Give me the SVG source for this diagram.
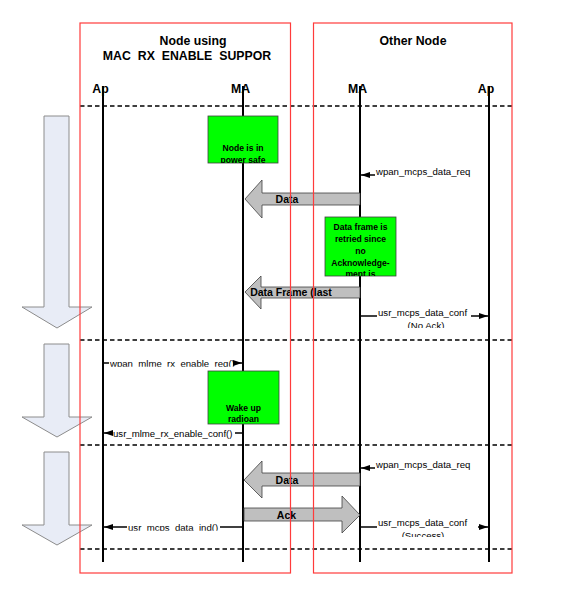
<svg xmlns="http://www.w3.org/2000/svg" width="582" height="594" viewBox="0 0 582 594">
<style>
.t{font-family:"Liberation Sans",Arial,sans-serif;fill:#000}
.hdr{font-size:12.3px;font-weight:bold;text-anchor:middle}
.lbl{font-size:10.5px;font-weight:bold;text-anchor:middle}
.msg{font-size:9.6px}
.note{font-size:8.6px;font-weight:bold;text-anchor:middle}
.life{stroke:#000;stroke-width:2}
.dash{stroke:#000;stroke-width:1.3;stroke-dasharray:4.5,3}
.box{fill:none;stroke:#FF3B3B;stroke-width:1.2}
.green{fill:#00FF00;stroke:#404040;stroke-width:0.8}
.big{fill:#BFBFBF;stroke:#404040;stroke-width:0.8}
.down{fill:#E8ECF6;stroke:#8C8C8C;stroke-width:1}
.wire{stroke:#000;stroke-width:1.5;fill:none}
</style>
<defs>
<marker id="ah" viewBox="0 0 9 6" refX="9" refY="3" markerWidth="9" markerHeight="6" markerUnits="userSpaceOnUse" orient="auto">
<path d="M0,0 L9,3 L0,6 z" fill="#000"/>
</marker>
<clipPath id="cNoAck"><rect x="370" y="300" width="120" height="28"/></clipPath>
<clipPath id="cSucc"><rect x="370" y="510" width="120" height="27"/></clipPath>
<clipPath id="cReq"><rect x="100" y="350" width="150" height="16.8"/></clipPath>
<clipPath id="cInd"><rect x="100" y="515" width="150" height="15.8"/></clipPath>
<clipPath id="cG1"><rect x="208" y="116" width="70" height="47"/></clipPath>
<clipPath id="cG2"><rect x="325" y="217" width="71" height="59"/></clipPath>
</defs>

<g id="phase-arrows">
<polygon class="down" points="44,116 69,116 69,307 92,307 57,328 22,307 44,307"/>
<polygon class="down" points="44,344 69,344 69,417 92,417 57,437 22,417 44,417"/>
<polygon class="down" points="44,452 69,452 69,525 92,525 57,545 22,525 44,525"/>
</g>

<g id="separators">
<line class="dash" x1="80" y1="106" x2="512" y2="106"/>
<line class="dash" x1="80" y1="340" x2="512" y2="340"/>
<line class="dash" x1="80" y1="445" x2="512" y2="445"/>
<line class="dash" x1="80" y1="549" x2="512" y2="549"/>
</g>

<g id="lifelines">
<line class="life" x1="103" y1="86" x2="103" y2="562"/>
<line class="life" x1="243" y1="86" x2="243" y2="562"/>
<line class="life" x1="360" y1="86" x2="360" y2="562"/>
<line class="life" x1="489" y1="86" x2="489" y2="562"/>
</g>

<g id="headers">
<text class="t hdr" x="193" y="45">Node using</text>
<text class="t hdr" x="187" y="60" style="word-spacing:3.5px">MAC RX ENABLE SUPPOR</text>
<text class="t hdr" x="413" y="45">Other Node</text>
<text class="t hdr" x="100.5" y="93">Ap</text>
<text class="t hdr" x="240.5" y="93">MA</text>
<text class="t hdr" x="357.5" y="93">MA</text>
<text class="t hdr" x="486" y="93">Ap</text>
</g>

<g id="note-power-safe">
<rect class="green" x="208" y="116" width="70" height="47"/>
<g clip-path="url(#cG1)">
<text class="t note" x="243" y="151">Node is in</text>
<text class="t note" x="243" y="162.5">power safe</text>
</g>
</g>

<g id="note-retried">
<rect class="green" x="325" y="217" width="71" height="59"/>
<g clip-path="url(#cG2)">
<text class="t note" x="360.5" y="230">Data frame is</text>
<text class="t note" x="360.5" y="242">retried since</text>
<text class="t note" x="360.5" y="254">no</text>
<text class="t note" x="360.5" y="265.5">Acknowledge-</text>
<text class="t note" x="360.5" y="277">ment is</text>
</g>
</g>

<g id="note-wakeup">
<rect class="green" x="208" y="371" width="71" height="53"/>
<text class="t note" x="243.5" y="411">Wake up</text>
<text class="t note" x="243.5" y="421.5">radioan</text>
</g>

<g id="connectors">
<polygon class="big" points="245,199 262,180 262,193 360,193 360,205 262,205 262,218"/>
<polygon class="big" points="245,292 261,276 261,287 360,287 360,298 261,298 261,309"/>
<polygon class="big" points="244,480 262,461 262,473 360,473 360,486 262,486 262,498"/>
<polygon class="big" points="360,515 342,496 342,508 244,508 244,521 342,521 342,533"/>

<line class="wire" x1="375" y1="175" x2="361" y2="175" marker-end="url(#ah)"/>
<line class="wire" x1="360" y1="316" x2="377" y2="316"/>
<line class="wire" x1="471" y1="316" x2="488" y2="316" marker-end="url(#ah)"/>
<line class="wire" x1="103" y1="363" x2="109" y2="363"/>
<line class="wire" x1="237" y1="363" x2="242" y2="363" marker-end="url(#ah)"/>
<line class="wire" x1="113" y1="433" x2="104" y2="433" marker-end="url(#ah)"/>
<line class="wire" x1="235" y1="433" x2="243" y2="433"/>
<line class="wire" x1="375" y1="468" x2="361" y2="468" marker-end="url(#ah)"/>
<line class="wire" x1="127" y1="527" x2="104" y2="527" marker-end="url(#ah)"/>
<line class="wire" x1="220" y1="527" x2="243" y2="527"/>
<line class="wire" x1="360" y1="527" x2="377" y2="527"/>
<line class="wire" x1="478" y1="527" x2="488" y2="527" marker-end="url(#ah)"/>
</g>

<g id="labels">
<text class="t lbl" x="287" y="203">Data</text>
<text class="t lbl" x="291" y="296">Data Frame (last</text>
<text class="t lbl" x="287" y="484">Data</text>
<text class="t lbl" x="286.5" y="519">Ack</text>
<text class="t msg" x="376" y="175">wpan_mcps_data_req</text>
<text class="t msg" x="378" y="315.5">usr_mcps_data_conf</text>
<text class="t msg" x="426" y="329" text-anchor="middle" clip-path="url(#cNoAck)">(No Ack)</text>
<text class="t msg" x="110" y="366.5" clip-path="url(#cReq)">wpan_mlme_rx_enable_req()</text>
<text class="t msg" x="113" y="436.5">usr_mlme_rx_enable_conf()</text>
<text class="t msg" x="376" y="468">wpan_mcps_data_req</text>
<text class="t msg" x="128" y="530.5" clip-path="url(#cInd)">usr_mcps_data_ind()</text>
<text class="t msg" x="378" y="526">usr_mcps_data_conf</text>
<text class="t msg" x="423" y="539" text-anchor="middle" clip-path="url(#cSucc)">(Success)</text>
</g>

<g id="node-boxes">
<rect class="box" x="80" y="23" width="210.5" height="550"/>
<rect class="box" x="313.5" y="23" width="198.5" height="550"/>
</g>
</svg>
